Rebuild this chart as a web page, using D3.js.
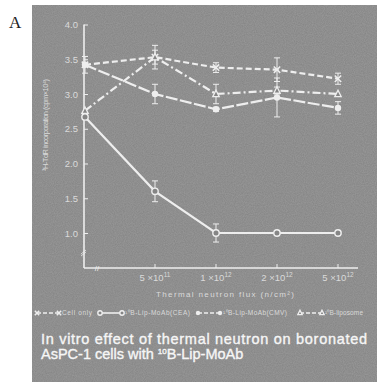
<!DOCTYPE html>
<html><head><meta charset="utf-8">
<script src="https://cdn.jsdelivr.net/npm/d3@7"></script>
<style>html,body{margin:0;padding:0;background:#fff}svg{display:block}</style>
</head><body>
<script>
// ---- data ----
const fluxLabels = [["",""],["5 ×10","11"],["1 ×10","12"],["2 ×10","12"],["5 ×10","12"]];
const yTicks = [1.0,1.5,2.0,2.5,3.0,3.5,4.0];
const cellOnly   = [3.42,3.53,3.38,3.35,3.22];
const cellOnlyErr= [0.12,0.17,0.07,0.17,0.08];
const ceaVals    = [2.67,1.60,1.00,1.00,1.00];
const ceaErr     = [0.00,0.15,0.13,0.03,0.02];
const cmvVals    = [3.42,3.00,2.78,2.95,2.80];
const cmvErr     = [0.00,0.14,0.03,0.28,0.09];
const lipoVals   = [2.76,3.53,3.00,3.05,3.00];
const lipoErr    = [0.00,0.10,0.14,0.05,0.02];
const seriesNames = ["Cell only","¹⁰B-Lip-MoAb(CEA)","¹⁰B-Lip-MoAb(CMV)","¹⁰B-liposome"];

const W=377,H=382;
const svg=d3.select("body").append("svg").attr("width",W).attr("height",H);
const defs=svg.append("defs");
const f=defs.append("filter").attr("id","grain").attr("x",0).attr("y",0).attr("width",1).attr("height",1);
f.append("feTurbulence").attr("type","fractalNoise").attr("baseFrequency",0.9).attr("numOctaves",2).attr("seed",3).attr("result","n");
f.append("feColorMatrix").attr("in","n").attr("type","matrix")
 .attr("values","0 0 0 0 0.5  0 0 0 0 0.5  0 0 0 0 0.5  0 0 0 0.6 -0.05");
f.append("feComposite").attr("in2","SourceGraphic").attr("operator","in");

const bg="#858585";
svg.append("rect").attr("x",32).attr("y",5).attr("width",345).attr("height",377).attr("fill",bg);
svg.append("rect").attr("x",32).attr("y",5).attr("width",345).attr("height",377).attr("fill",bg).attr("filter","url(#grain)").attr("opacity",0.7);

svg.append("text").attr("x",9).attr("y",28).attr("font-family","Liberation Serif, serif").attr("font-size",17).attr("fill","#222").text("A");

const x=d3.scaleLinear().domain([0,1,4]).range([85,155,338]);
const y=d3.scaleLinear().domain([1,4]).range([233,24.5]);
const axisY=268, axisRight=358;
const light="#eeeeee", txt="#dadada";
const g=svg.append("g");

// y axis
const ya=g.append("g").attr("transform","translate(84,0)")
 .call(d3.axisLeft(y).tickValues(yTicks).tickFormat(d3.format(".1f")).tickSizeInner(-4).tickSizeOuter(0).tickPadding(6));
ya.select(".domain").remove();
ya.selectAll("line").attr("stroke",light).attr("stroke-width",1);
ya.selectAll("text").attr("fill",txt).attr("font-family","Liberation Sans, Arial, sans-serif").attr("font-size",9.5);
g.append("line").attr("x1",84).attr("x2",84).attr("y1",y(4)).attr("y2",axisY).attr("stroke",light).attr("stroke-width",1.6);
g.append("line").attr("x1",84).attr("x2",axisRight).attr("y1",axisY).attr("y2",axisY).attr("stroke",light).attr("stroke-width",1.6);
// breaks
g.append("path").attr("d",`M81,${axisY-12}l5,-4 M81,${axisY-14}l5,-4`).attr("stroke",light).attr("stroke-width",0.8);
g.append("text").attr("x",x(0)+12).attr("y",axisY+3).attr("fill",light).attr("font-size",8).attr("font-family","Liberation Sans, sans-serif").attr("text-anchor","middle").text("//");

// x axis ticks & labels
const xi=[1,2,3,4];
g.selectAll(".xt").data(xi).join("line").attr("x1",d=>x(d)).attr("x2",d=>x(d)).attr("y1",axisY).attr("y2",axisY-4).attr("stroke",light);
const xl=g.selectAll(".xl").data(xi).join("text").attr("x",d=>x(d)).attr("y",axisY+13).attr("text-anchor","middle")
 .attr("fill",txt).attr("font-family","Liberation Sans, Arial, sans-serif").attr("font-size",9.5);
xl.append("tspan").text(d=>fluxLabels[d][0]);
xl.append("tspan").attr("dy",-4).attr("font-size",6.5).text(d=>fluxLabels[d][1]);

g.append("text").attr("x",225).attr("y",297).attr("text-anchor","middle").attr("fill",txt)
 .attr("font-family","Liberation Sans, Arial, sans-serif").attr("font-size",8).attr("textLength",138).text("Thermal neutron flux (n/cm²)");
g.append("text").attr("transform","translate(48,125) rotate(-90)").attr("text-anchor","middle").attr("fill",txt)
 .attr("font-family","Liberation Sans, Arial, sans-serif").attr("font-size",7.5).attr("textLength",92).text("³H-TdR incorporation (cpm×10⁴)");

// series
const series=[
 {vals:cellOnly,err:cellOnlyErr,dash:"6,3",mark:"x"},
 {vals:ceaVals,err:ceaErr,dash:null,mark:"o"},
 {vals:cmvVals,err:cmvErr,dash:"12,2.5",mark:"f"},
 {vals:lipoVals,err:lipoErr,dash:"8,3,2,3",mark:"t"}
];
const line=d3.line().x((d,i)=>x(i)).y(d=>y(d));
function marker(sel,type,cx,cy,r){
 if(type==="x"){sel.append("path").attr("d",`M${cx-r},${cy-r}L${cx+r},${cy+r}M${cx-r},${cy+r}L${cx+r},${cy-r}`).attr("stroke",light).attr("stroke-width",1.5);}
 else if(type==="o"){sel.append("circle").attr("cx",cx).attr("cy",cy).attr("r",r).attr("fill",bg).attr("stroke",light).attr("stroke-width",1.4);}
 else if(type==="f"){sel.append("circle").attr("cx",cx).attr("cy",cy).attr("r",r).attr("fill",light);}
 else {sel.append("path").attr("d",`M${cx},${cy-r-0.5}L${cx+r},${cy+r-0.5}L${cx-r},${cy+r-0.5}Z`).attr("fill",bg).attr("stroke",light).attr("stroke-width",1.3);}
}
series.forEach(s=>{
 const sg=g.append("g");
 sg.append("path").attr("d",line(s.vals)).attr("fill","none").attr("stroke",light).attr("stroke-width",2.2).attr("stroke-dasharray",s.dash);
 s.vals.forEach((v,i)=>{
  if(s.err[i]>0.02){
   const x0=x(i),y1=y(v+s.err[i]),y2=y(v-s.err[i]);
   sg.append("path").attr("d",`M${x0},${y1}V${y2}M${x0-3},${y1}H${x0+3}M${x0-3},${y2}H${x0+3}`).attr("stroke",light).attr("stroke-width",1).attr("fill","none");
  }
 });
 s.vals.forEach((v,i)=>marker(sg,s.mark,x(i),y(v),3.2));
});

// legend
const legX=[35,98,196,298], legW=[60,95,94,68];
series.forEach((s,k)=>{
 const lg=g.append("g"); const ly=313, x0=legX[k];
 lg.append("line").attr("x1",x0+2).attr("x2",x0+24).attr("y1",ly).attr("y2",ly).attr("stroke",light).attr("stroke-width",1.6).attr("stroke-dasharray",s.dash?"4,2":null);
 marker(lg,s.mark,x0+2,ly,2.2); marker(lg,s.mark,x0+24,ly,2.2);
 lg.append("text").attr("x",x0+27).attr("y",ly+2.3).attr("fill",txt).attr("font-family","Liberation Sans, Arial, sans-serif").attr("font-size",6.5)
  .attr("textLength",legW[k]-30).text(seriesNames[k]);
});

// caption
const cap=svg.append("g").attr("fill","#f6f6f6").attr("stroke","#f6f6f6").attr("stroke-width",0.35).attr("font-family","Liberation Sans, Arial, sans-serif").attr("font-size",14.5);
cap.append("text").attr("x",41).attr("y",344).attr("textLength",326).text("In vitro effect of thermal neutron on boronated");
const c2=cap.append("text").attr("x",41).attr("y",359);
c2.append("tspan").text("AsPC-1 cells with ");
c2.append("tspan").attr("font-size",8).attr("dy",-5).text("10");
c2.append("tspan").attr("dy",5).text("B-Lip-MoAb");
</script>
</body></html>
